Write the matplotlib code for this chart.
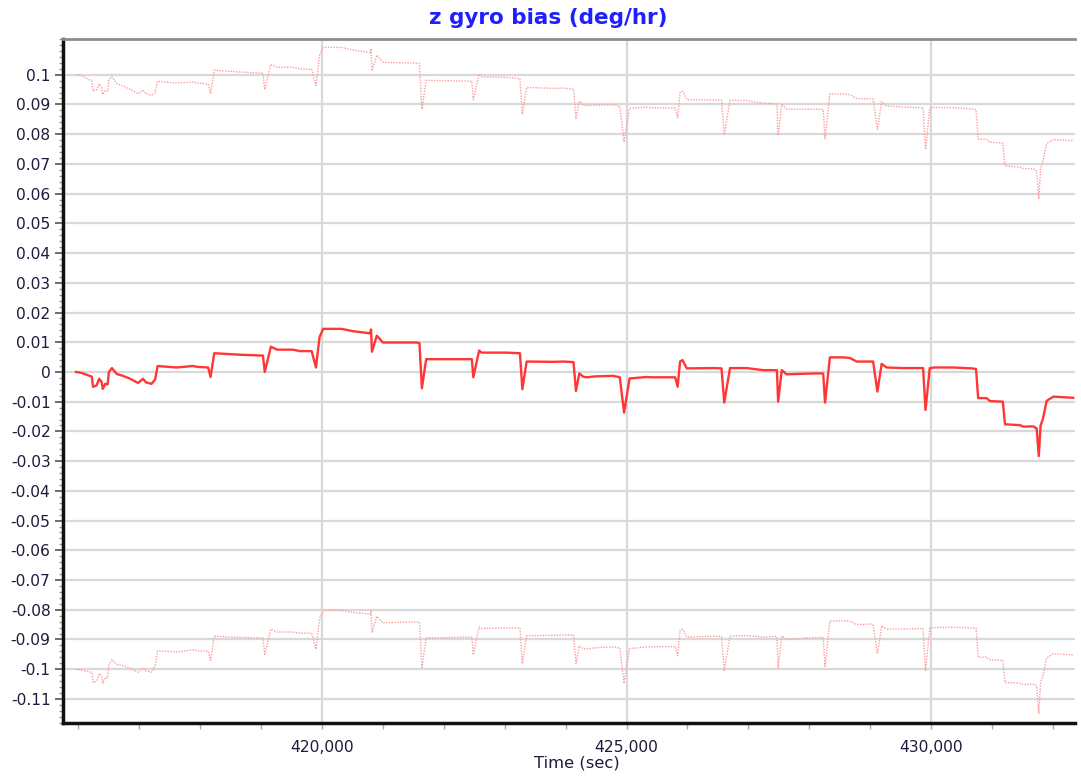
import matplotlib
matplotlib.use("Agg")
import matplotlib.pyplot as plt
from matplotlib.ticker import MultipleLocator, FuncFormatter, FixedLocator
import numpy as np

# ---- data ----
time_sec = [415960, 416050, 416220, 416240, 416300, 416340, 416380, 416400, 416440, 416480,
            416500, 416550, 416630, 416730, 416850, 416980, 417060, 417110, 417200, 417260,
            417300, 417610, 417880, 417960, 418130, 418170, 418230, 418650, 419030, 419060,
            419160, 419260, 419520, 419640, 419830, 419900, 419960, 420020, 420320, 420510,
            420670, 420790, 420805, 420820, 420900, 421000, 421280, 421555, 421600, 421640,
            421710, 422460, 422485, 422580, 422620, 423030, 423250, 423290, 423360, 423800,
            423960, 424130, 424170, 424225, 424290, 424350, 424480, 424780, 424890, 424960,
            425050, 425330, 425410, 425800, 425840, 425880, 425920, 425990, 426430, 426560,
            426605, 426700, 426970, 427250, 427470, 427490, 427550, 427630, 428070, 428230,
            428260, 428340, 428560, 428670, 428780, 429050, 429120, 429190, 429270, 429545,
            429870, 429910, 429980, 430065, 430370, 430670, 430740, 430775, 430910, 430970,
            431180, 431215, 431460, 431515, 431680, 431735, 431770, 431800, 431835, 431900,
            432010, 432335]

bias = [0.0000, -0.0003, -0.0016, -0.0050, -0.0045, -0.0023, -0.0033, -0.0057, -0.0040, -0.0042,
        0.0000, 0.0013, -0.0007, -0.0013, -0.0023, -0.0037, -0.0023, -0.0035, -0.0040, -0.0025,
        0.0020, 0.0015, 0.0020, 0.0017, 0.0015, -0.0017, 0.0063, 0.0058, 0.0055, 0.0000,
        0.0085, 0.0075, 0.0075, 0.0070, 0.0070, 0.0015, 0.0118, 0.0145, 0.0145, 0.0137,
        0.0133, 0.0130, 0.0143, 0.0068, 0.0122, 0.0099, 0.0099, 0.0099, 0.0097, -0.0055,
        0.0043, 0.0043, -0.0018, 0.0072, 0.0065, 0.0065, 0.0063, -0.0058, 0.0035, 0.0034,
        0.0035, 0.0033, -0.0064, -0.0005, -0.0016, -0.0018, -0.0015, -0.0013, -0.0018, -0.0137,
        -0.0022, -0.0017, -0.0018, -0.0018, -0.0050, 0.0035, 0.0040, 0.0012, 0.0013, 0.0012,
        -0.0103, 0.0013, 0.0013, 0.0006, 0.0006, -0.0100, 0.0006, -0.0008, -0.0005, -0.0005,
        -0.0103, 0.0049, 0.0049, 0.0047, 0.0035, 0.0035, -0.0066, 0.0027, 0.0015, 0.0013,
        0.0013, -0.0128, 0.0013, 0.0015, 0.0015, 0.0012, 0.0010, -0.0088, -0.0088, -0.0098,
        -0.0100, -0.0176, -0.0179, -0.0184, -0.0183, -0.0190, -0.0283, -0.0180, -0.0160, -0.0097,
        -0.0083, -0.0087]

sigma = [0.1000, 0.1000, 0.0995, 0.0995, 0.0994, 0.0992, 0.0990, 0.0990, 0.0988, 0.0987,
         0.0985, 0.0980, 0.0977, 0.0975, 0.0974, 0.0973, 0.0972, 0.0971, 0.0970, 0.0965,
         0.0958, 0.0957, 0.0955, 0.0955, 0.0954, 0.0953, 0.0952, 0.0951, 0.0950, 0.0950,
         0.0950, 0.0950, 0.0950, 0.0949, 0.0949, 0.0948, 0.0948, 0.0947, 0.0947, 0.0946,
         0.0945, 0.0945, 0.0945, 0.0945, 0.0944, 0.0943, 0.0941, 0.0940, 0.0940, 0.0939,
         0.0938, 0.0935, 0.0934, 0.0930, 0.0928, 0.0926, 0.0924, 0.0924, 0.0922, 0.0920,
         0.0920, 0.0918, 0.0917, 0.0916, 0.0915, 0.0914, 0.0913, 0.0912, 0.0911, 0.0910,
         0.0909, 0.0908, 0.0907, 0.0906, 0.0905, 0.0905, 0.0905, 0.0904, 0.0902, 0.0902,
         0.0901, 0.0901, 0.0900, 0.0898, 0.0896, 0.0895, 0.0894, 0.0892, 0.0889, 0.0888,
         0.0888, 0.0887, 0.0886, 0.0886, 0.0885, 0.0883, 0.0882, 0.0881, 0.0880, 0.0878,
         0.0876, 0.0876, 0.0875, 0.0875, 0.0874, 0.0873, 0.0872, 0.0872, 0.0871, 0.0871,
         0.0870, 0.0869, 0.0868, 0.0868, 0.0867, 0.0866, 0.0865, 0.0865, 0.0865, 0.0865,
         0.0865, 0.0865]

x_major_ticks = [420000, 425000, 430000]
y_major_ticks = [0.1, 0.09, 0.08, 0.07, 0.06, 0.05, 0.04, 0.03, 0.02, 0.01, 0.0,
                 -0.01, -0.02, -0.03, -0.04, -0.05, -0.06, -0.07, -0.08, -0.09, -0.1, -0.11]
title_text = "z gyro bias (deg/hr)"
xlabel_text = "Time (sec)"

# ---- figure ----
t = np.array(time_sec, dtype=float)
b = np.array(bias)
s = np.array(sigma)

fig = plt.figure(figsize=(10.81, 7.76), dpi=100)
ax = fig.add_axes([0.0583, 0.0683, 0.9361, 0.8814])

ax.plot(t, b + s, color="#ff9c9c", lw=1.0, ls=(0, (1, 1)), zorder=3)
ax.plot(t, b - s, color="#ff9c9c", lw=1.0, ls=(0, (1, 1)), zorder=3)
ax.plot(t, b, color="#ff3636", lw=1.7, zorder=4)

ax.set_xlim(415747, 432364)
ax.set_ylim(-0.1181, 0.112)

ax.yaxis.set_major_locator(FixedLocator(y_major_ticks))
ax.yaxis.set_minor_locator(MultipleLocator(0.002))
ax.xaxis.set_major_locator(FixedLocator(x_major_ticks))
ax.xaxis.set_minor_locator(MultipleLocator(1000))

def yfmt(v, pos):
    v = round(v, 4)
    if abs(v) < 1e-9:
        return "0"
    return f"{v:g}"

ax.yaxis.set_major_formatter(FuncFormatter(yfmt))
ax.xaxis.set_major_formatter(FuncFormatter(lambda v, p: f"{int(round(v)):,}"))

ax.grid(True, which="major", color="#d9d9d9", lw=1.6, zorder=0)
ax.set_axisbelow(True)

ax.spines["right"].set_visible(False)
ax.spines["left"].set_color("#111111")
ax.spines["left"].set_linewidth(2.5)
ax.spines["bottom"].set_color("#111111")
ax.spines["bottom"].set_linewidth(2.5)
ax.spines["top"].set_color("#8c8c8c")
ax.spines["top"].set_linewidth(2.0)

label_color = "#1c1c3c"
ax.tick_params(axis="y", which="major", length=6, width=1.2, color="#555555",
               labelsize=11.2, labelcolor=label_color, pad=3)
ax.tick_params(axis="y", which="minor", length=3, width=1.0, color="#999999")
ax.tick_params(axis="x", which="major", length=4, width=1.0, color="#aaaaaa",
               labelsize=11.2, labelcolor=label_color, pad=8)
ax.tick_params(axis="x", which="minor", length=4, width=1.0, color="#aaaaaa")

fig.text(577 / 1081, 1 - 763 / 776, xlabel_text, ha="center", va="center",
         fontsize=11.8, color=label_color)
fig.text(548 / 1081, 1 - 18 / 776, title_text, ha="center", va="center",
         fontsize=15.5, fontweight="bold", color="#1f1fff")

fig.savefig("out.png", dpi=100)
